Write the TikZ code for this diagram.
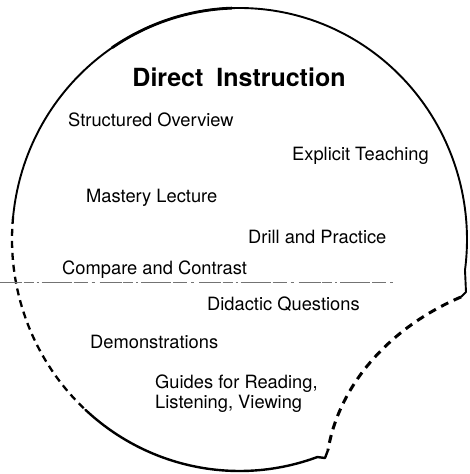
\documentclass[tikz,border=0pt]{standalone}
\usepackage{fontspec}
\setmainfont{TeX Gyre Heros}
\begin{document}
\begin{tikzpicture}[x=1pt,y=1pt,
  outline/.style={line width=1.9pt,line cap=round,line join=round},
  dashout/.style={line width=2.3pt,dash pattern=on 7pt off 5pt},
  dashcut/.style={line width=3pt,dash pattern=on 8pt off 6pt},
  divider/.style={line width=0.6pt,black!55,dash pattern=on 22pt off 1.5pt on 10pt off 3pt on 2pt off 3pt on 30pt off 2pt on 14pt off 4pt on 3pt off 5pt},
  item/.style={inner sep=0pt,anchor=base west,font=\fontsize{18.3pt}{20pt}\selectfont},
  title/.style={inner sep=0pt,anchor=base,font=\bfseries\fontsize{25pt}{28pt}\selectfont}]
\useasboundingbox (0,0) rectangle (469,474);
\coordinate (C) at (239.5,234.5);
\coordinate (rc) at (466,182);
\coordinate (rh) at (461,177);
\coordinate (bc) at (328,24);
\coordinate (bh) at (325,16);
% solid upper arc
\draw[outline] ([shift={(C)}]174.4:227.5pt and 231.5pt)
  arc[start angle=174.4,end angle=-7.6,x radius=227.5pt,y radius=231.5pt]
  -- (rc) -- (rh);
% thicker top-left stroke
\draw[line width=2.8pt,line cap=round] ([shift={(C)}]92:227.5pt and 231.5pt)
  arc[start angle=92,end angle=124,x radius=227.5pt,y radius=231.5pt];
% dashed right cut
\draw[dashcut] (rh) .. controls (395,149) and (340,94) .. (bc);
% solid bottom arc
\draw[outline,line width=2.4pt] (bc) -- (bh) -- ([shift={(C)}]290:227.5pt and 231.5pt)
  arc[start angle=290,end angle=227.4,x radius=227.5pt,y radius=231.5pt];
% dashed left arc
\draw[dashout] ([shift={(C)}]174.4:227.5pt and 231.5pt)
  arc[start angle=174.4,end angle=227.4,x radius=227.5pt,y radius=231.5pt];
% divider
\coordinate (d1) at (0,192);
\coordinate (d2) at (393,192);
\draw[divider] (d1) -- (d2);
% texts
\node[title] (t0) at (239,387) {Direct\hspace{6pt} Instruction};
\node[item] (t1) at (68,347) {Structured Overview};
\node[item] (t2) at (292,313) {Explicit Teaching};
\node[item] (t3) at (86,271) {Mastery Lecture};
\node[item] (t4) at (248,230) {Drill and Practice};
\node[item] (t5) at (62,199) {Compare and Contrast};
\node[item] (t6) at (207,163) {Didactic Questions};
\node[item] (t7) at (90,125) {Demonstrations};
\node[item] (t8) at (155,85) {Guides for Reading,};
\node[item] (t9) at (155,65) {Listening, Viewing};
\end{tikzpicture}
\end{document}
